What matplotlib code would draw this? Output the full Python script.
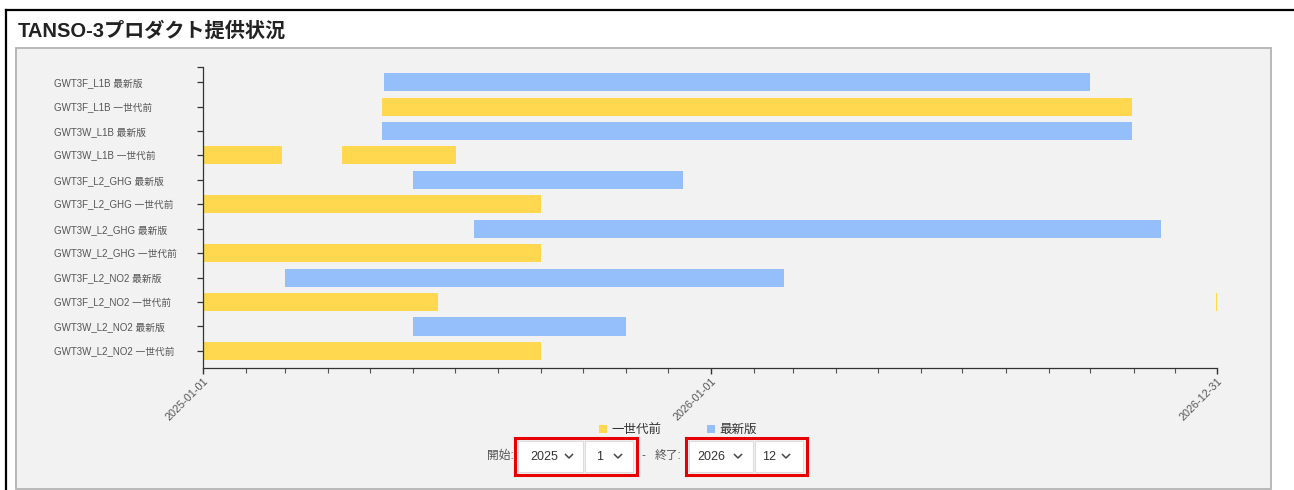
"""
TANSO-3 プロダクト提供状況 (ガントチャート風) の再現
"""
import matplotlib
matplotlib.use("Agg")
import matplotlib.pyplot as plt
import matplotlib.dates as mdates
from matplotlib.patches import Rectangle, Patch
from matplotlib.lines import Line2D

plt.rcParams["font.family"] = ["Liberation Sans", "Noto Sans CJK JP", "DejaVu Sans"]

# ─────────────────────────────────────────────────────────────
# データ
# ─────────────────────────────────────────────────────────────
LABELS = [
    "GWT3F_L1B 最新版",
    "GWT3F_L1B 一世代前",
    "GWT3W_L1B 最新版",
    "GWT3W_L1B 一世代前",
    "GWT3F_L2_GHG 最新版",
    "GWT3F_L2_GHG 一世代前",
    "GWT3W_L2_GHG 最新版",
    "GWT3W_L2_GHG 一世代前",
    "GWT3F_L2_NO2 最新版",
    "GWT3F_L2_NO2 一世代前",
    "GWT3W_L2_NO2 最新版",
    "GWT3W_L2_NO2 一世代前",
]

SPANS = [
    [("2025-05-11", "2026-10-01")],
    [("2025-05-10", "2026-10-31")],
    [("2025-05-10", "2026-10-31")],
    [("2025-01-01", "2025-02-27"), ("2025-04-11", "2025-07-02")],
    [("2025-06-01", "2025-12-12")],
    [("2025-01-01", "2025-09-01")],
    [("2025-07-15", "2026-11-21")],
    [("2025-01-01", "2025-09-01")],
    [("2025-03-01", "2026-02-23")],
    [("2025-01-01", "2025-06-19"), ("2026-12-30", "2026-12-31")],
    [("2025-06-01", "2025-11-01")],
    [("2025-01-01", "2025-09-01")],
]

X_START = "2025-01-01"
X_END = "2026-12-31"
X_LABELED = ["2025-01-01", "2026-01-01", "2026-12-31"]

LEGEND_NAMES = ["一世代前", "最新版"]
COLORS = {"一世代前": "#FFD84F", "最新版": "#94BFFA"}

TITLE = "TANSO-3プロダクト提供状況"
START_SEL = ("2025", "1")
END_SEL = ("2026", "12")

# ─────────────────────────────────────────────────────────────
# Figure
# ─────────────────────────────────────────────────────────────
W, H = 1294, 490
fig = plt.figure(figsize=(W / 100, H / 100), dpi=100)
fig.patch.set_facecolor("white")


def fx(x):
    return x / W


def fy(y):
    return 1 - y / H


def rect_px(x0, y0, x1, y1, **kw):
    r = Rectangle((fx(x0), fy(y1)), fx(x1) - fx(x0), fy(y0) - fy(y1),
                  transform=fig.transFigure, **kw)
    fig.add_artist(r)
    return r


def line_px(xs, ys, **kw):
    fig.add_artist(Line2D([fx(x) for x in xs], [fy(y) for y in ys],
                          transform=fig.transFigure, **kw))


# 外枠 (黒) とパネル (灰)
line_px([6, 6], [10, 490], color="black", lw=1.6, zorder=-20)
line_px([6, 1294], [10, 10], color="black", lw=1.6, zorder=-20)
rect_px(16, 48, 1271, 489, facecolor="#f2f2f2", edgecolor="#b3b3b3",
        lw=1.3, zorder=-10)

fig.text(fx(18), fy(31), TITLE, fontsize=14.5, fontweight="bold",
         color="#222222", ha="left", va="center")

# ── 軸 ───────────────────────────────────────────────────────
ax = fig.add_axes([fx(203), fy(368), fx(1217) - fx(203), fy(67) - fy(368)])
ax.set_facecolor("none")

n = len(LABELS)
for i, (lab, spans) in enumerate(zip(LABELS, SPANS)):
    kind = lab.split(" ")[-1]
    for s, e in spans:
        d0 = mdates.datestr2num(s)
        d1 = mdates.datestr2num(e)
        ax.barh(i, d1 - d0, left=d0, height=0.74, color=COLORS[kind],
                linewidth=0)

ax.set_xlim(mdates.datestr2num(X_START), mdates.datestr2num(X_END))
ax.set_ylim(n - 1 + 0.70, -0.62)

for sp in ["top", "right"]:
    ax.spines[sp].set_visible(False)
for sp in ["left", "bottom"]:
    ax.spines[sp].set_color("#333333")
    ax.spines[sp].set_linewidth(0.9)

ax.set_yticks(range(n), LABELS, ha="left")
ax.set_yticks([-0.62], minor=True)
ax.tick_params(axis="y", which="both", length=4, width=0.9, color="#333333",
               labelsize=7.0, labelcolor="#555555", pad=103.5)

ax.xaxis.set_minor_locator(mdates.MonthLocator())
ax.set_xticks([mdates.datestr2num(d) for d in X_LABELED], X_LABELED)
ax.tick_params(axis="x", which="minor", length=3.5, width=0.8, color="#555555")
ax.tick_params(axis="x", which="major", length=4, width=1.0, color="#333333",
               labelsize=7.8, labelcolor="#555555", pad=2)
for t in ax.get_xticklabels():
    t.set_rotation(45)
    t.set_ha("right")
    t.set_va("top")
    t.set_rotation_mode("anchor")

# ── 凡例 ─────────────────────────────────────────────────────
handles = [Patch(facecolor=COLORS[k], edgecolor="none") for k in LEGEND_NAMES]
fig.legend(handles, LEGEND_NAMES, loc="center", bbox_to_anchor=(fx(678), fy(430)),
           ncol=2, frameon=False, fontsize=9, handlelength=0.6,
           handleheight=0.6, handletextpad=0.35, columnspacing=3.7,
           labelcolor="#333333")

# ── 期間選択コントロール ─────────────────────────────────────
def dropdown(x0, x1, text, text_x, chev_x):
    rect_px(x0, 441, x1, 472, facecolor="white", edgecolor="#dddddd", lw=0.8)
    fig.text(fx(text_x), fy(457), text, fontsize=9, color="#333333",
             ha="left", va="center")
    cy = 456
    line_px([chev_x - 3.5, chev_x, chev_x + 3.5], [cy - 1.5, cy + 2, cy - 1.5],
            color="#444444", lw=1.1)


fig.text(fx(487), fy(456), "開始:", fontsize=8.5, color="#555555",
         ha="left", va="center")
dropdown(518, 583, START_SEL[0], 530, 569)
dropdown(585, 633, START_SEL[1], 596, 618)
rect_px(515, 438, 637, 475, facecolor="none", edgecolor="#e60000", lw=2.2)

fig.text(fx(642), fy(456), "-", fontsize=8.5, color="#555555",
         ha="left", va="center")
fig.text(fx(655), fy(456), "終了:", fontsize=8.5, color="#555555",
         ha="left", va="center")
dropdown(689, 753, END_SEL[0], 697, 738)
dropdown(755, 803, END_SEL[1], 762, 786)
rect_px(686, 438, 807, 475, facecolor="none", edgecolor="#e60000", lw=2.2)

fig.savefig("out.png", dpi=100)
